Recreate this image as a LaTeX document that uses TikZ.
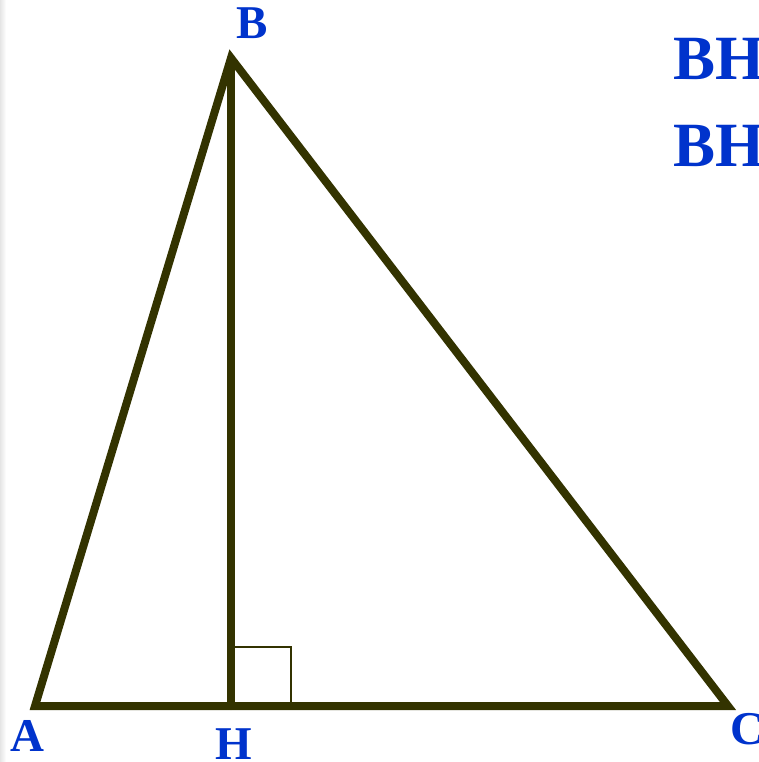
\documentclass[tikz,border=0pt]{standalone}
\usepackage{fontspec}
\setmainfont{Liberation Serif}
\definecolor{edge}{HTML}{333300}
\definecolor{lbl}{HTML}{0033CC}
\begin{document}
\begin{tikzpicture}[x=1pt,y=-1pt,
  side/.style={draw=edge,line width=8pt,line cap=round,line join=miter},
  mark90/.style={draw=edge,line width=1.6pt},
  vlabel/.style={text=lbl,font=\fontsize{47}{50}\selectfont\bfseries,inner sep=0pt,anchor=base west},
  biglabel/.style={text=lbl,font=\fontsize{63}{66}\selectfont\bfseries,inner sep=0pt,anchor=base west}]
\useasboundingbox (0,0) rectangle (758,762);
\clip (0,0) rectangle (758,762);
\shade[left color=black!10,right color=white] (0,0) rectangle (6,762);
\coordinate (A) at (35,706);
\coordinate (B) at (231,58);
\coordinate (C) at (728,706);
\coordinate (H) at (231,706);
\draw[mark90] (231,647) -- (291,647) -- (291,706);
\draw[side] (A) -- (B) -- (C) -- cycle;
\draw[side] (B) -- (H);
\node[vlabel] (lB) at (236,39) {B};
\node[vlabel] (lA) at (10,751) {A};
\node[vlabel] (lH) at (215,759) {H};
\node[vlabel] (lC) at (730,744) {C};
\node[biglabel] (t1) at (673,80) {BH};
\node[biglabel] (t2) at (673,167) {BH};
\end{tikzpicture}
\end{document}
